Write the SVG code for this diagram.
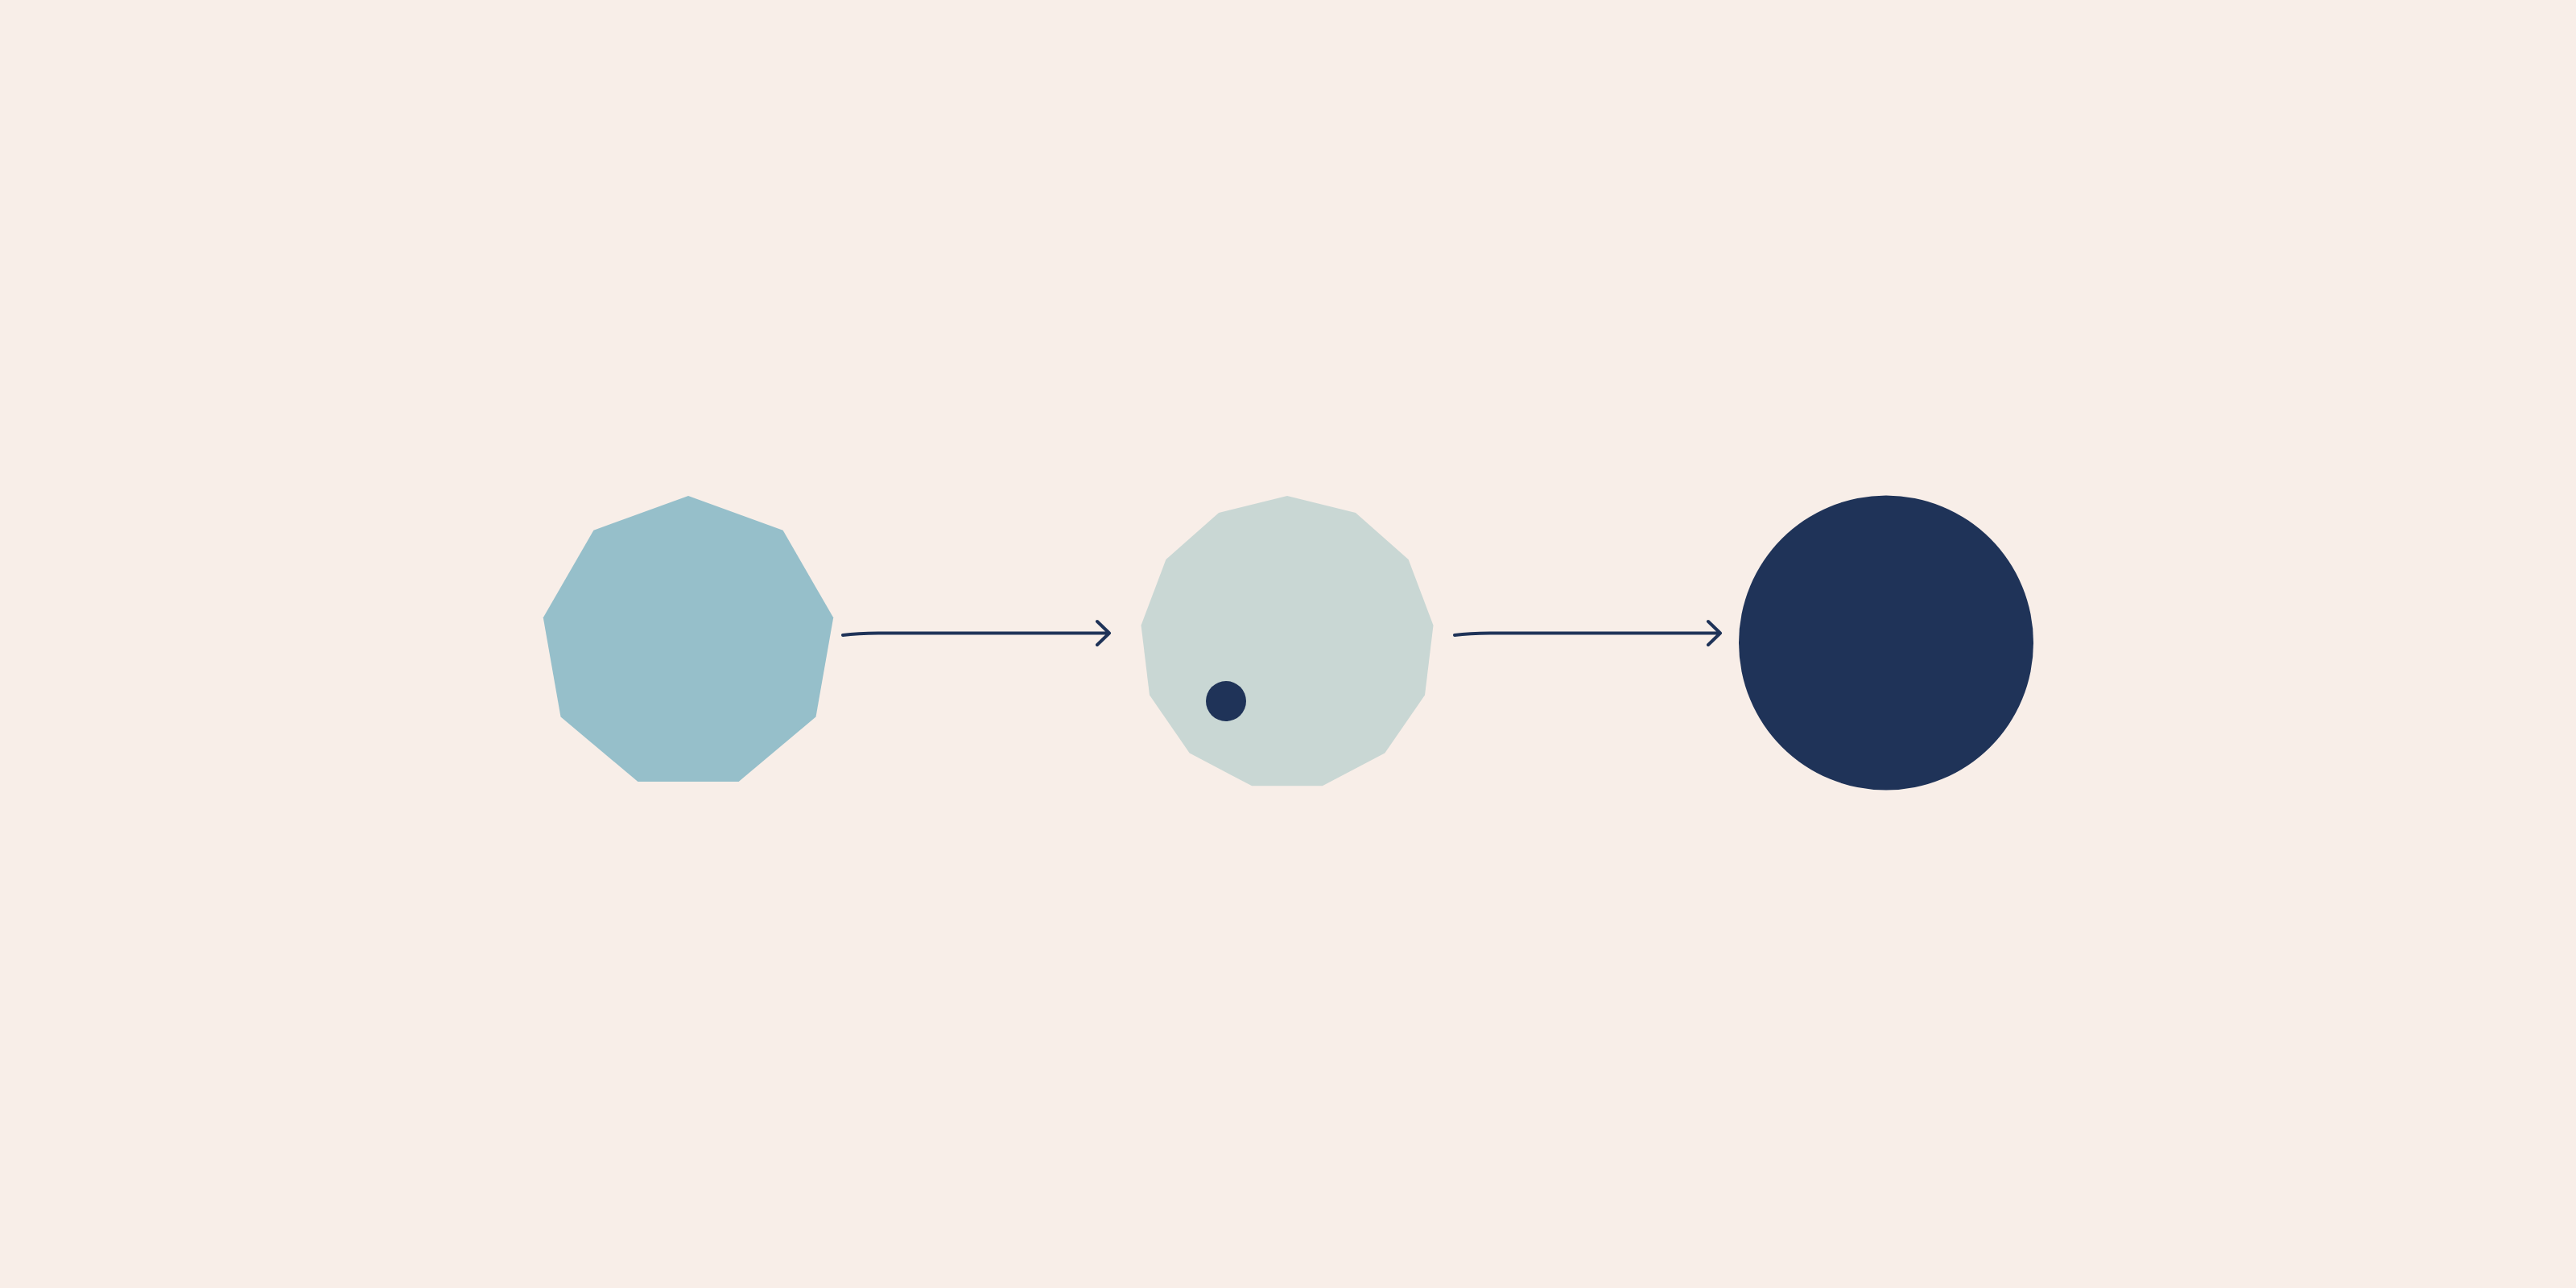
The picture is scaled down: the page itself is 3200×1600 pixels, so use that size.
<svg xmlns="http://www.w3.org/2000/svg" width="3200" height="1600" viewBox="0 0 3200 1600">
<style>
.conn{fill:none;stroke:#1F3358;stroke-width:4;stroke-linecap:round;stroke-linejoin:round}
</style>
<rect width="3200" height="1600" fill="#F8EEE8"/>
<g id="node-nonagon">
<polygon fill="#96BFCA" points="855,616 972.6,658.8 1035.2,767.2 1013.5,890.5 917.6,971 792.4,971 696.5,890.5 674.8,767.2 737.4,658.8"/>
</g>
<g id="node-tridecagon">
<polygon fill="#C9D7D4" points="1599.0,616.0 1684.0,637.0 1749.6,695.0 1780.5,776.8 1770.0,863.6 1720.3,935.6 1642.8,976.3 1555.2,976.3 1477.7,935.6 1428.0,863.6 1417.5,776.8 1448.4,695.0 1514.0,637.0"/>
<circle cx="1523" cy="871" r="25" fill="#1F3358"/>
</g>
<g id="node-circle">
<circle cx="2343" cy="798.5" r="183" fill="#1F3358"/>
</g>
<g id="connectors">
<path class="conn" d="M1047 789 Q1068 786 1100 786.5 L1378 786.5 M1363 772 L1378 786.5 L1363 801"/>
<path class="conn" d="M1807 789 Q1828 786 1860 786.5 L2137 786.5 M2122 772 L2137 786.5 L2122 801"/>
</g>
</svg>
